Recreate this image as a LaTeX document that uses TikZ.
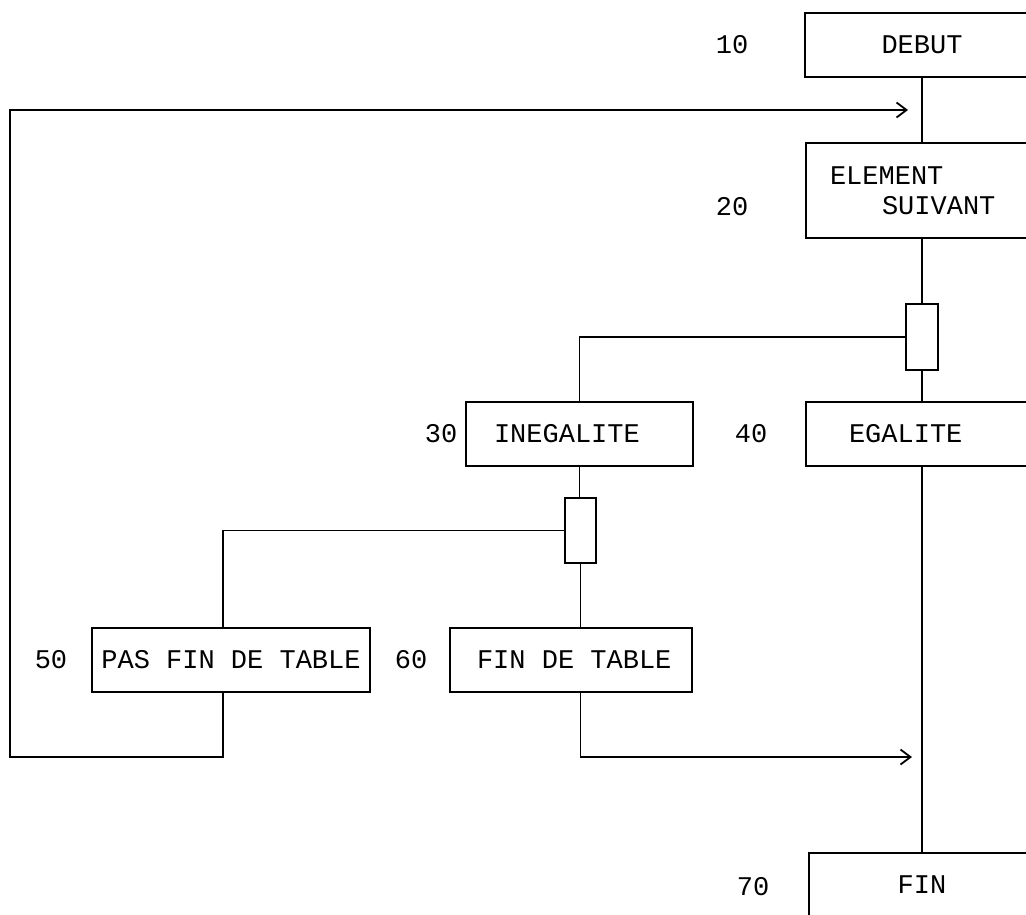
\documentclass[tikz,border=0pt]{standalone}
\usepackage{fontspec}
\setmonofont{Liberation Mono}
\usetikzlibrary{arrows.meta}
\newcommand{\msp}{\hspace*{16.2pt}}
\begin{document}
\begin{tikzpicture}[x=1pt,y=-1pt,
  every node/.style={font=\ttfamily\fontsize{27}{30}\selectfont, inner sep=0pt},
  box/.style={draw, line width=1.8pt, minimum height=64pt},
  sw/.style={draw, line width=1.8pt},
  conn/.style={line width=1.8pt},
  arr/.style={conn, -{Straight Barb[length=10pt,width=15pt,line width=1.8pt]}}]
\useasboundingbox (0,0) rectangle (1026,914);
\clip (0,0) rectangle (1026,914);
% boxes
\node[box, text width=234pt, align=center] (debut) at (922,45) {DEBUT};
\node[box, text width=232pt, align=left, minimum height=95pt] (elem) at (922,190.5)
  {\hspace*{24pt}ELEMENT\\\hspace*{76pt}SUIVANT};
\node[sw, minimum width=32pt, minimum height=66pt] (sw1) at (922,337) {};
\node[box, text width=227pt, align=left] (ineg) at (579.5,434) {\hspace*{28pt}INEGALITE};
\node[box, text width=232pt, align=left] (egal) at (922,434) {\hspace*{43pt}EGALITE};
\node[sw, minimum width=31pt, minimum height=65pt] (sw2) at (580.5,530.5) {};
\node[box, text width=278pt, align=center] (pas) at (231,660) {PAS\msp FIN\msp DE\msp TABLE};
\node[box, text width=242pt, align=left] (fin60) at (571,660) {\hspace*{27pt}FIN\msp DE\msp TABLE};
\node[box, text width=226pt, align=center] (fin) at (922,885) {FIN};
% labels
\node (l10) at (732,45) {10};
\node (l20) at (732,207) {20};
\node (l30) at (441,434) {30};
\node (l40) at (751,434) {40};
\node (l50) at (51,660) {50};
\node (l60) at (411,660) {60};
\node (l70) at (753,887) {70};
% coordinates
\coordinate (c1) at (10,757);
\coordinate (a1) at (908,110);
\coordinate (a2) at (912,757);
% connectors
\draw[conn] (debut.south) -- (elem.north);
\draw[conn] (elem.south) -- (sw1.north);
\draw[conn] (sw1.south) -- (egal.north);
\draw[conn] (egal.south) -- (fin.north);
\draw[conn] (sw1.west) -| (ineg.north);
\draw[conn] (ineg.south) -- (ineg.south |- sw2.north);
\draw[conn] (sw2.south) -- (sw2.south |- fin60.north);
\draw[conn] (sw2.west) -| ([xshift=-8pt]pas.north);
\draw[arr] ([xshift=-8pt]pas.south) |- (c1) |- (a1);
\draw[arr] (sw2.south |- fin60.south) |- (a2);
\end{tikzpicture}
\end{document}
